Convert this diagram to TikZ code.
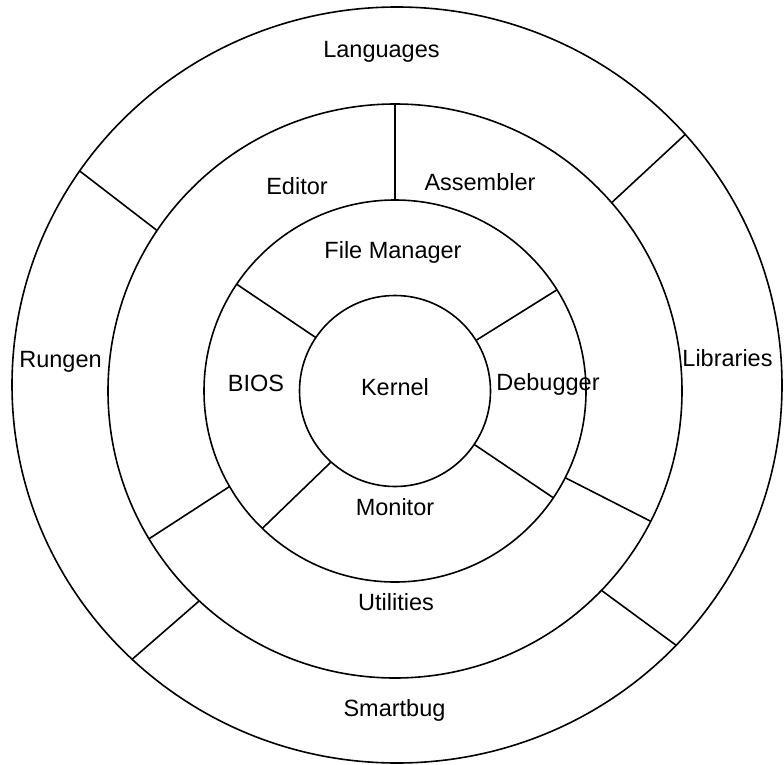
\documentclass[tikz,border=0pt]{standalone}
\usepackage{fontspec}
\setmainfont{Liberation Sans}
\usetikzlibrary{shapes.geometric}
\begin{document}
\begin{tikzpicture}[x=1pt,y=-1pt,
  ringline/.style={draw, line width=1.6pt, inner sep=0pt, outer sep=0pt},
  ring/.style={ringline, circle},
  divider/.style={line width=1.6pt},
  lbl/.style={font=\fontsize{23.5}{28}\selectfont, inner sep=0pt}]
\useasboundingbox (0,0) rectangle (784,765);
% rings
\node[ringline, ellipse, minimum width=770pt, minimum height=756pt] (outer) at (397,385) {};
\node[ring, minimum size=574pt] (mid) at (395,391) {};
\node[ring, minimum size=382pt] (inner) at (395,391) {};
\node[ring, minimum size=191pt] (kernel) at (395,391) {};
% outer ring dividers
\draw[divider] (mid.146) -- (outer.146);
\draw[divider] (mid.41.5) -- (outer.41.5);
\draw[divider] (mid.227) -- (outer.226);
\draw[divider] (mid.-44) -- (outer.-43);
% middle ring dividers
\draw[divider] (inner.90) -- (mid.90);
\draw[divider] (inner.210) -- (mid.211);
\draw[divider] (inner.-27) -- (mid.-27);
% inner ring dividers
\draw[divider] (kernel.146) -- (inner.146);
\draw[divider] (kernel.32) -- (inner.32);
\draw[divider] (kernel.228) -- (inner.226);
\draw[divider] (kernel.-34) -- (inner.-34);
% labels
\node[lbl] (languages) at (381.5,52) {Languages};
\node[lbl] (editor) at (297,186) {Editor};
\node[lbl] (assembler) at (480,182) {Assembler};
\node[lbl] (filemanager) at (393,252) {File Manager};
\node[lbl] (rungen) at (60.5,362) {Rungen};
\node[lbl] (bios) at (256,383) {BIOS};
\node[lbl] (kernellbl) at (395,387.5) {Kernel};
\node[lbl] (debugger) at (548,384) {Debugger};
\node[lbl] (libraries) at (727.5,358) {Libraries};
\node[lbl] (monitor) at (395,507) {Monitor};
\node[lbl] (utilities) at (396,602) {Utilities};
\node[lbl] (smartbug) at (394.5,710) {Smartbug};
\end{tikzpicture}
\end{document}
